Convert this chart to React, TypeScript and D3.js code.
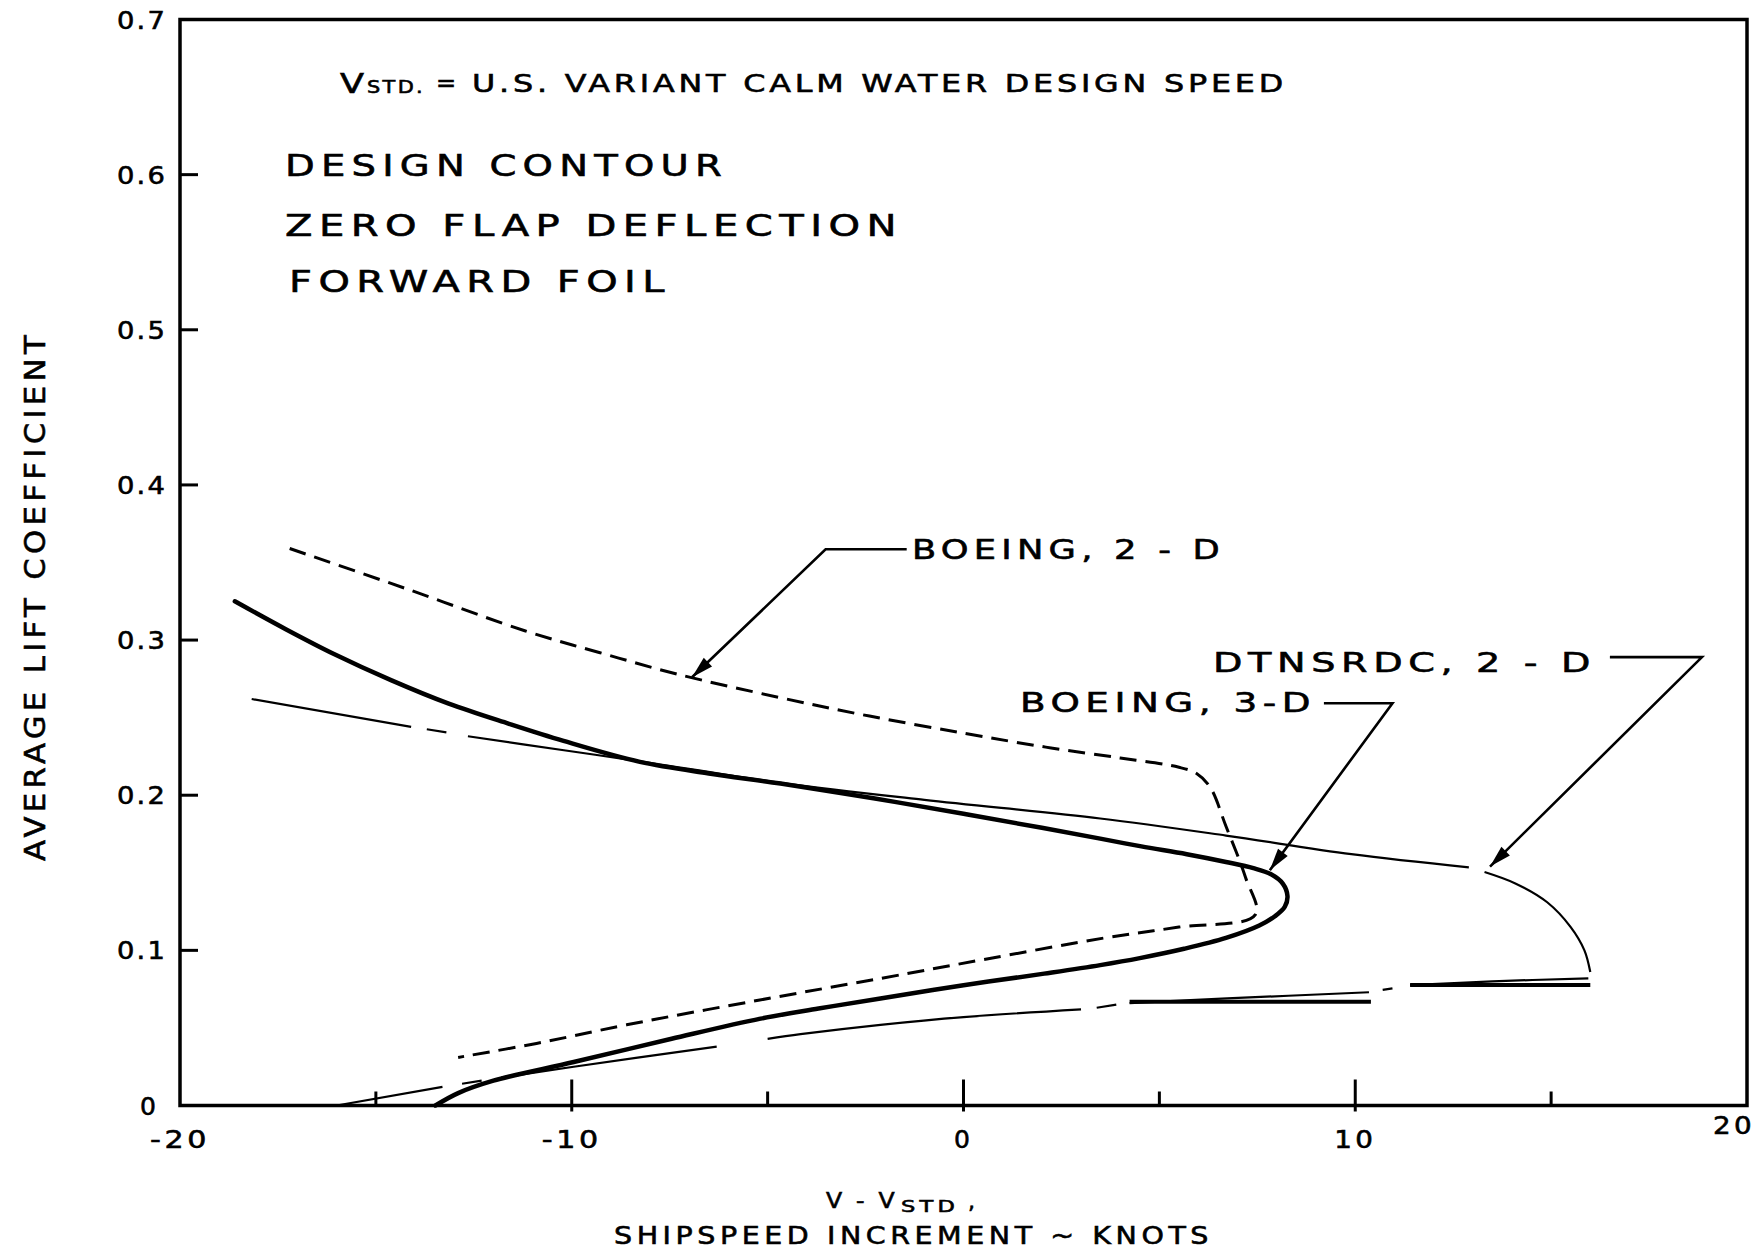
import React from 'react';
import * as d3 from 'd3';

// ---------- data ----------
const xDomain = [-20, 20];
const yDomain = [0, 0.7];
const xMajorTicks = [-20, -10, 0, 10, 20];
const xMinorTicks = [-15, -5, 5, 15];
const xTickLabels = ['-20', '-10', '0', '10', '20'];
const yTicks = [0, 0.1, 0.2, 0.3, 0.4, 0.5, 0.6, 0.7];
const yTickLabels = ['0', '0.1', '0.2', '0.3', '0.4', '0.5', '0.6', '0.7'];

// BOEING, 2-D (dashed)
const boeing2dX = [-17.2, -14.1, -11.2, -9.3, -7.3, -4.7, -2.4, 0, 2.1, 4.0, 5.5, 5.95, 6.3, 6.7, 7.2, 7.45, 5.5, 3.6, 0.5, -2.1, -5.2, -8.6, -10.9, -12.9];
const boeing2dY = [0.359, 0.332, 0.306, 0.292, 0.278, 0.263, 0.251, 0.24, 0.231, 0.224, 0.218, 0.214, 0.205, 0.18, 0.147, 0.123, 0.115, 0.108, 0.094, 0.082, 0.068, 0.052, 0.04, 0.031];

// BOEING, 3-D (heavy solid)
const boeing3dX = [-18.6, -17.3, -16.07, -14.6, -13.14, -11.6, -10.21, -8.26, -6.5, -4.67, -2.3, 0, 2.0, 3.49, 4.54, 5.7, 6.7, 7.4, 7.85, 8.15, 8.27, 8.2, 7.95, 7.55, 6.7, 5.63, 4.5, 3.49, 2.06, 0, -2.12, -3.7, -5.18, -7.45, -9.95, -12.0, -12.9, -13.48];
const boeing3dY = [0.325, 0.307, 0.291, 0.274, 0.259, 0.246, 0.235, 0.2215, 0.214, 0.2075, 0.198, 0.188, 0.179, 0.172, 0.167, 0.162, 0.157, 0.153, 0.149, 0.143, 0.135, 0.128, 0.122, 0.116, 0.108, 0.101, 0.095, 0.0905, 0.085, 0.0775, 0.069, 0.0625, 0.056, 0.043, 0.028, 0.016, 0.008, 0.0];

// DTNSRDC, 2-D (thin, pen lifted where NaN)
const dtnX = [-18.17, -14.1, NaN, -13.7, -13.2, NaN, -12.65, -10.2, -8.3, -4.67, -1, 3.49, 6.7, 9.9, 12.9, NaN, 13.3, 14.1, 14.9, 15.5, 15.85, 16.0, NaN, 15.95, 13.5, 11.4, NaN, 10.95, 10.7, NaN, 10.35, 6.73, 4.24, NaN, 3.9, 3.4, NaN, 3.0, 0, -2.12, -4.16, -5.0, NaN, -6.3, -9.95, -11.8, NaN, -12.3, -12.8, NaN, -13.3, -16.0];
const dtnY = [0.262, 0.244, NaN, 0.2425, 0.2405, NaN, 0.238, 0.229, 0.222, 0.208, 0.197, 0.185, 0.174, 0.162, 0.1535, NaN, 0.1505, 0.143, 0.131, 0.115, 0.1, 0.086, NaN, 0.082, 0.08, 0.0776, NaN, 0.0755, 0.0745, NaN, 0.073, 0.069, 0.066, NaN, 0.065, 0.063, NaN, 0.062, 0.057, 0.052, 0.046, 0.043, NaN, 0.038, 0.025, 0.018, NaN, 0.016, 0.014, NaN, 0.012, 0.0];

// heavy straight overstrikes near the lower DTNSRDC branch
const barX0 = [4.24, 11.4];
const barX1 = [10.4, 16.0];
const barY = [0.0668, 0.0776];

// annotation leaders (data coordinates)
const annTexts = ['BOEING, 2 - D', 'BOEING, 3-D', 'DTNSRDC, 2 - D'];
const annTipX = [-6.93, 7.82, 13.44];
const annTipY = [0.276, 0.1517, 0.154];
const annElbowX = [-3.52, 10.95, 18.85];
const annElbowY = [0.3585, 0.2593, 0.289];
const annLineEndX = [-1.45, 9.2, 16.5];

// ---------- layout ----------
const W = 1756;
const H = 1250;
const FONT = '"DejaVu Sans", "Liberation Sans", sans-serif';

type TxtProps = {
  x: number;
  y: number;
  size: number;
  len?: number;
  ls?: number;
  anchor?: 'start' | 'middle' | 'end';
  transform?: string;
  children: React.ReactNode;
};

function Txt({ x, y, size, len, ls = 0, anchor = 'start', transform, children }: TxtProps) {
  return (
    <text
      x={x}
      y={y}
      fontSize={size}
      textAnchor={anchor}
      transform={transform}
      textLength={len}
      lengthAdjust={len ? 'spacingAndGlyphs' : undefined}
      letterSpacing={ls}
      fill="#000"
      stroke="#000"
      strokeWidth={0.6}
    >
      {children}
    </text>
  );
}

export default function App() {
  const x = d3.scaleLinear().domain(xDomain).range([180, 1747]);
  const y = d3.scaleLinear().domain(yDomain).range([1105.5, 19.5]);

  const pts = (xs: number[], ys: number[]) => xs.map((v, i) => [v, ys[i]] as [number, number]);
  const line = d3
    .line<[number, number]>()
    .defined((d) => !isNaN(d[0]) && !isNaN(d[1]))
    .x((d) => x(d[0]))
    .y((d) => y(d[1]))
    .curve(d3.curveCatmullRom.alpha(0.5));

  const annTextLen = [313, 296, 383];
  const annTextX = [912, 1020, 1213];
  const annTextYOff = [10, 9, 15];

  return (
    <svg
      width={W}
      height={H}
      viewBox={`0 0 ${W} ${H}`}
      style={{ position: 'absolute', left: 0, top: 0, background: '#fff' }}
      fontFamily={FONT}
    >
      <rect x={0} y={0} width={W} height={H} fill="#fff" />

      {/* frame */}
      <rect
        x={x(-20)}
        y={y(0.7)}
        width={x(20) - x(-20)}
        height={y(0) - y(0.7)}
        fill="none"
        stroke="#000"
        strokeWidth={3.5}
      />

      {/* y ticks */}
      {yTicks.slice(1, 7).map((t) => (
        <line key={'yt' + t} x1={x(-20)} x2={x(-20) + 18} y1={y(t)} y2={y(t)} stroke="#000" strokeWidth={3} />
      ))}
      {yTicks.map((t, i) => (
        <Txt
          key={'yl' + t}
          x={t === 0 ? 149 : 167}
          y={y(t) + 9}
          size={25}
          ls={2}
          len={t === 0 ? undefined : 50}
          anchor={t === 0 ? 'middle' : 'end'}
        >
          {yTickLabels[i]}
        </Txt>
      ))}

      {/* x ticks */}
      {xMajorTicks.slice(1, 4).map((t) => (
        <line key={'xM' + t} x1={x(t)} x2={x(t)} y1={y(0) + 6} y2={y(0) - 26} stroke="#000" strokeWidth={3} />
      ))}
      {xMinorTicks.map((t) => (
        <line key={'xm' + t} x1={x(t)} x2={x(t)} y1={y(0)} y2={y(0) - 14} stroke="#000" strokeWidth={3} />
      ))}
      {xMajorTicks.map((t, i) => (
        <Txt
          key={'xl' + t}
          x={t === 20 ? x(t) - 13 : x(t)}
          y={t === 20 ? 1134 : 1148}
          size={25}
          ls={3}
          len={t === 0 ? undefined : t < 0 ? 60 : 42}
          anchor="middle"
        >
          {xTickLabels[i]}
        </Txt>
      ))}

      {/* curves */}
      <path d={line(pts(boeing2dX, boeing2dY)) || ''} fill="none" stroke="#000" strokeWidth={3} strokeDasharray="17 9" />
      <path d={line(pts(boeing3dX, boeing3dY)) || ''} fill="none" stroke="#000" strokeWidth={4.5} strokeLinecap="round" />
      <path d={line(pts(dtnX, dtnY)) || ''} fill="none" stroke="#000" strokeWidth={2.2} />
      {barX0.map((b, i) => (
        <line key={'bar' + i} x1={x(b)} x2={x(barX1[i])} y1={y(barY[i])} y2={y(barY[i])} stroke="#000" strokeWidth={4} />
      ))}

      {/* annotations */}
      {annTexts.map((t, i) => {
        const tx = x(annTipX[i]);
        const ty = y(annTipY[i]);
        const ex = x(annElbowX[i]);
        const ey = y(annElbowY[i]);
        const lx = x(annLineEndX[i]);
        const ang = Math.atan2(ty - ey, tx - ex);
        const L = 22;
        const w = 6;
        const bx = tx - L * Math.cos(ang);
        const by = ty - L * Math.sin(ang);
        const px = -Math.sin(ang) * w;
        const py = Math.cos(ang) * w;
        return (
          <g key={'ann' + i}>
            <polyline
              points={`${lx},${ey} ${ex},${ey} ${tx},${ty}`}
              fill="none"
              stroke="#000"
              strokeWidth={2.6}
            />
            <polygon points={`${tx},${ty} ${bx + px},${by + py} ${bx - px},${by - py}`} fill="#000" />
            <Txt x={annTextX[i]} y={ey + annTextYOff[i]} size={27} ls={4} len={annTextLen[i]}>
              {t}
            </Txt>
          </g>
        );
      })}

      {/* top notes */}
      <Txt x={340} y={93} size={26} len={24}>V</Txt>
      <Txt x={367} y={93} size={18} ls={2} len={58}>STD.</Txt>
      <Txt x={436} y={91} size={24}>=</Txt>
      <Txt x={472} y={92} size={25} ls={3} len={815}>
        U.S. VARIANT CALM WATER DESIGN SPEED
      </Txt>
      <Txt x={285} y={176} size={31} ls={5} len={443}>DESIGN CONTOUR</Txt>
      <Txt x={285} y={236} size={31} ls={5} len={618}>ZERO FLAP DEFLECTION</Txt>
      <Txt x={289} y={292} size={31} ls={5} len={382}>FORWARD FOIL</Txt>

      {/* axis titles */}
      <Txt transform="translate(45,596) rotate(-90)" x={0} y={0} size={28} ls={4} len={530} anchor="middle">
        AVERAGE LIFT COEFFICIENT
      </Txt>
      <Txt x={826} y={1208} size={22} ls={3} len={72}>V - V</Txt>
      <Txt x={901} y={1212} size={16} ls={3} len={58}>STD</Txt>
      <Txt x={968} y={1209} size={22}>,</Txt>
      <Txt x={614} y={1244} size={25} ls={4} len={599}>
        SHIPSPEED INCREMENT ~ KNOTS
      </Txt>
    </svg>
  );
}
